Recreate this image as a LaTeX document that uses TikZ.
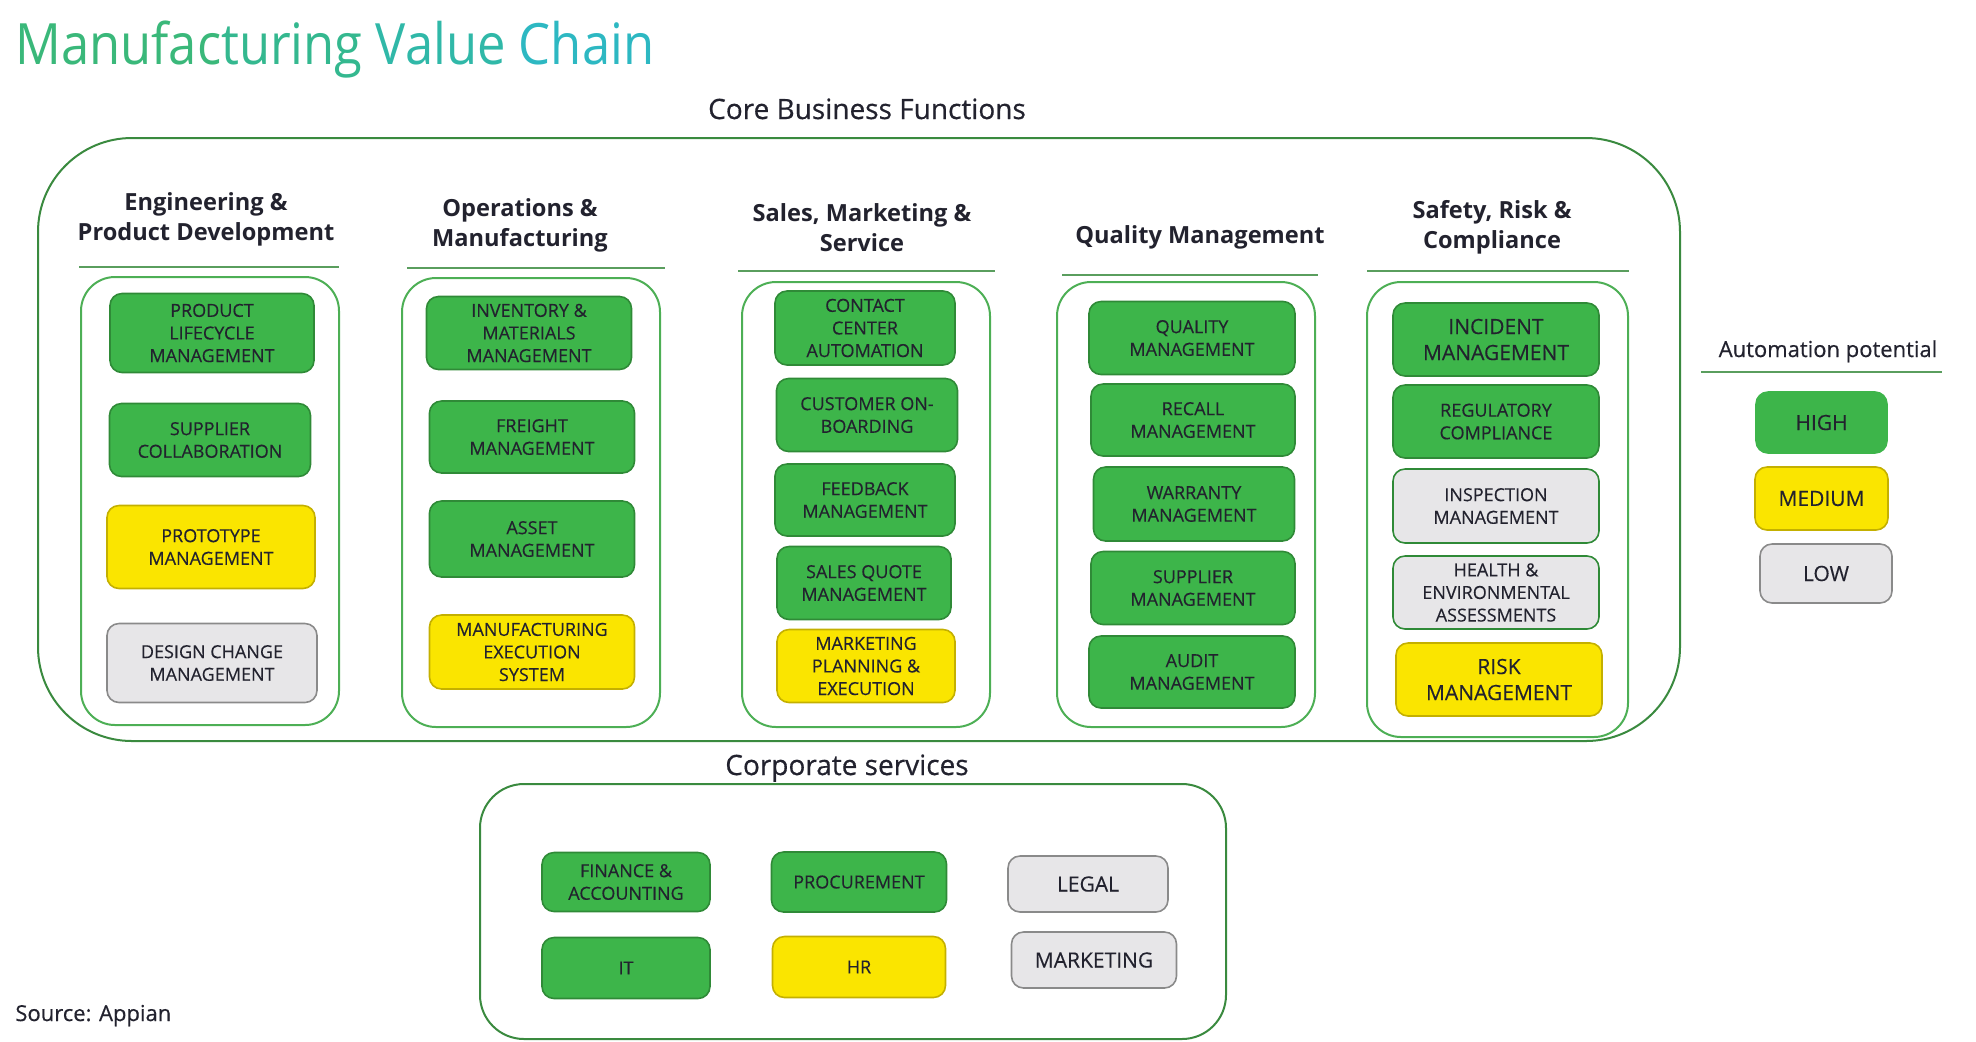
\documentclass[tikz,border=0pt]{standalone}
\usepackage{fontspec}
\setmainfont{Open Sans}
\newfontfamily\semib[FakeBold=0.5]{Open Sans}
\newfontfamily\boxf[FakeBold=0.3]{Open Sans}
\newfontfamily\titlef[FakeStretch=0.89]{Open Sans}
\usepackage{tikz}

\definecolor{hiFill}{HTML}{3DB54A}
\definecolor{hiDraw}{HTML}{2F8A37}
\definecolor{medFill}{HTML}{FAE500}
\definecolor{medDraw}{HTML}{C4B000}
\definecolor{lowFill}{HTML}{E7E6E8}
\definecolor{lowDraw}{HTML}{8A8A8A}
\definecolor{frameDark}{HTML}{3A8A3F}
\definecolor{frameLight}{HTML}{4DAF55}
\definecolor{hdrLine}{HTML}{5A9E5E}
\definecolor{txt}{HTML}{22222E}
\definecolor{ttA}{HTML}{3AB87A}
\definecolor{ttB}{HTML}{34B88F}
\definecolor{ttC}{HTML}{30B8A8}
\definecolor{ttD}{HTML}{2DB8C2}

\begin{document}
\begin{tikzpicture}[x=0.5pt,y=0.5pt,yscale=-1,
  box/.style={rounded corners=6pt, line width=0.8pt, align=center, inner sep=1pt,
    text=txt, font=\fontsize{9}{11.3}\selectfont\boxf},
  hibox/.style={box, fill=hiFill, draw=hiDraw},
  medbox/.style={box, fill=medFill, draw=medDraw},
  lowbox/.style={box, fill=lowFill, draw=lowDraw},
  lowgbox/.style={box, fill=lowFill, draw=hiDraw},
  bigtxt/.style={font=\fontsize{10.5}{13}\selectfont\boxf},
  colframe/.style={draw=frameLight, line width=1pt, rounded corners=17pt},
  outerframe/.style={draw=frameDark, line width=1pt, rounded corners=47pt},
  colhead/.style={align=center, inner sep=0pt, text=txt,
    font=\fontsize{11.8}{15}\selectfont\bfseries},
  hdrline/.style={draw=hdrLine, line width=0.6pt},
  wA/.style={minimum width=102.5pt},
  wB/.style={minimum width=90pt},
  wC/.style={minimum width=103pt}
]
\useasboundingbox (0,0) rectangle (1976,1041);

\node (title) at (15,64) [anchor=base west, inner sep=0pt, font=\fontsize{28.5}{30}\selectfont\titlef]
  {\color{ttA}Manufac\color{ttB}turing \color{ttC}Value \color{ttD}Chain};

\node (core) at (867,119) [anchor=base, inner sep=0pt, text=txt, font=\fontsize{14}{16}\selectfont\semib]
  {Core Business Functions};
\draw [outerframe] (38,138) rectangle (1680,741);

\node (hEng) at (206,219) [colhead] {Engineering \&\\Product Development};
\node (hOps) at (520,225) [colhead] {Operations \&\\Manufacturing};
\node (hSal) at (862,228) [colhead] {Sales, Marketing \&\\Service};
\node (hQual) at (1200,237) [colhead] {Quality Management};
\node (hSaf) at (1492,227) [colhead] {Safety, Risk \&\\Compliance};

\draw [hdrline] (79,267) -- (339,267);
\draw [hdrline] (407,268) -- (665,268);
\draw [hdrline] (738,271) -- (995,271);
\draw [hdrline] (1062,275) -- (1318,275);
\draw [hdrline] (1367,271) -- (1629,271);

\draw [colframe] (81,277) rectangle (339,725);
\draw [colframe] (402,278) rectangle (660,727);
\draw [colframe] (742,282) rectangle (990,727);
\draw [colframe] (1057,282) rectangle (1315,727);
\draw [colframe] (1367,282) rectangle (1628,737);

\node (plm) at (212,333) [hibox, minimum width=102pt, minimum height=39.5pt] {PRODUCT\\LIFECYCLE\\MANAGEMENT};
\node (supc) at (210,440) [hibox, minimum width=100.5pt, minimum height=36.5pt] {SUPPLIER\\COLLABORATION};
\node (proto) at (211,547) [medbox, minimum width=104pt, minimum height=41.5pt] {PROTOTYPE\\MANAGEMENT};
\node (dcm) at (212,663) [lowbox, minimum width=105pt, minimum height=39.5pt] {DESIGN CHANGE\\MANAGEMENT};

\node (inv) at (529,333) [hibox, wA, minimum height=36.5pt] {INVENTORY \&\\MATERIALS\\MANAGEMENT};
\node (frt) at (532,437) [hibox, wA, minimum height=36pt] {FREIGHT\\MANAGEMENT};
\node (asset) at (532,539) [hibox, wA, minimum height=38pt] {ASSET\\MANAGEMENT};
\node (mes) at (532,652) [medbox, wA, minimum height=37pt] {MANUFACTURING\\EXECUTION\\SYSTEM};

\node (cca) at (865,328) [hibox, wB, minimum height=37pt] {CONTACT\\CENTER\\AUTOMATION};
\node (cob) at (867,415) [hibox, minimum width=90.5pt, minimum height=36.5pt] {CUSTOMER ON-\\BOARDING};
\node (fbm) at (865,500) [hibox, wB, minimum height=36pt] {FEEDBACK\\MANAGEMENT};
\node (sqm) at (864,583) [hibox, minimum width=87pt, minimum height=36.5pt] {SALES QUOTE\\MANAGEMENT};
\node (mpe) at (866,666) [medbox, minimum width=89pt, minimum height=36.5pt] {MARKETING\\PLANNING \&\\EXECUTION};

\node (qm) at (1192,338) [hibox, wC, minimum height=36.5pt] {QUALITY\\MANAGEMENT};
\node (rcm) at (1193,420) [hibox, minimum width=102pt, minimum height=36pt] {RECALL\\MANAGEMENT};
\node (wm) at (1194,504) [hibox, minimum width=100.5pt, minimum height=37pt] {WARRANTY\\MANAGEMENT};
\node (sm) at (1193,588) [hibox, minimum width=102pt, minimum height=36.5pt] {SUPPLIER\\MANAGEMENT};
\node (am) at (1192,672) [hibox, wC, minimum height=36pt] {AUDIT\\MANAGEMENT};

\node (im) at (1496,339.5) [hibox, bigtxt, wC, minimum height=36.5pt] {INCIDENT\\MANAGEMENT};
\node (rc) at (1496,421.5) [hibox, wC, minimum height=36.5pt] {REGULATORY\\COMPLIANCE};
\node (insp) at (1496,506) [lowgbox, wC, minimum height=37pt] {INSPECTION\\MANAGEMENT};
\node (hea) at (1496,592.5) [lowgbox, wC, minimum height=36.5pt] {HEALTH \&\\ENVIRONMENTAL\\ASSESSMENTS};
\node (rm) at (1499,679.5) [medbox, bigtxt, wC, minimum height=36.5pt] {RISK\\MANAGEMENT};

\node (auto) at (1828,357) [anchor=base, inner sep=0pt, text=txt, font=\fontsize{11}{13}\selectfont\semib]
  {Automation potential};
\draw [hdrline] (1701,372) -- (1942,372);
\node (high) at (1821.5,422.5) [hibox, bigtxt, draw=hiFill, minimum width=65.5pt, minimum height=30.5pt] {HIGH};
\node (med) at (1821.5,498.5) [medbox, bigtxt, minimum width=66.5pt, minimum height=31.5pt] {MEDIUM};
\node (low) at (1826,573.5) [lowbox, bigtxt, minimum width=66pt, minimum height=29.5pt] {LOW};

\node (corp) at (847,775) [anchor=base, inner sep=0pt, text=txt, font=\fontsize{14}{16}\selectfont\semib]
  {Corporate services};
\draw [outerframe, rounded corners=22pt] (480,784) rectangle (1226,1039);

\node (fin) at (626,882) [hibox, minimum width=84pt, minimum height=29.5pt] {FINANCE \&\\ACCOUNTING};
\node (proc) at (859,882) [hibox, minimum width=87.5pt, minimum height=30pt] {PROCUREMENT};
\node (legal) at (1088,884) [lowbox, bigtxt, minimum width=80pt, minimum height=28pt] {LEGAL};
\node (it) at (626,968) [hibox, minimum width=84pt, minimum height=30.5pt] {IT};
\node (hr) at (859,967) [medbox, minimum width=86.5pt, minimum height=30.5pt] {HR};
\node (mkt) at (1094,960) [lowbox, bigtxt, minimum width=82.5pt, minimum height=28pt] {MARKETING};

\node (src) at (15,1021) [anchor=base west, inner sep=0pt, text=txt, font=\fontsize{11}{13}\selectfont\semib]
  {Source: Appian};

\end{tikzpicture}
\end{document}
